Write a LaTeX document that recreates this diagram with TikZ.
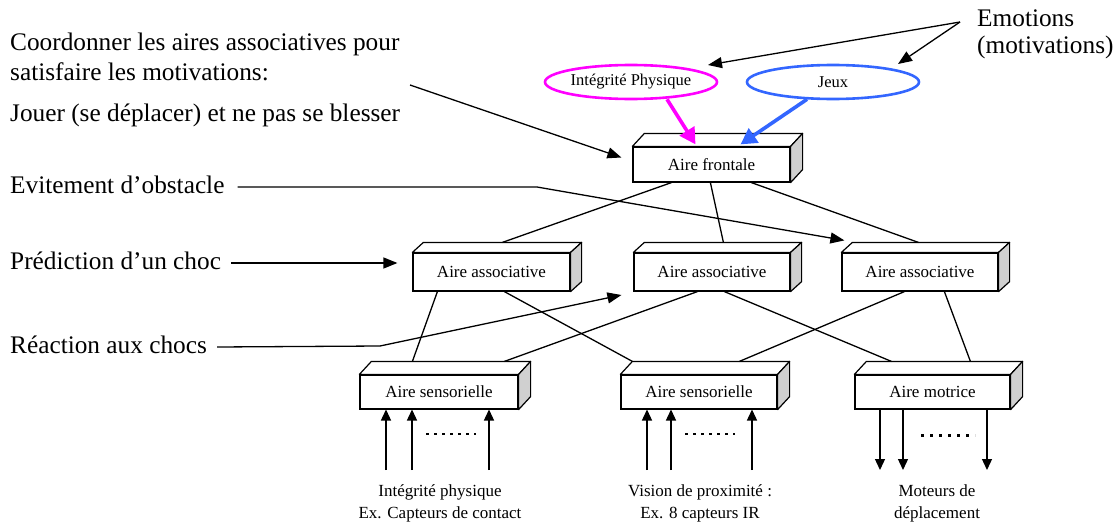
\documentclass[tikz,border=0pt]{standalone}
\usepackage{fontspec}
\setmainfont{Liberation Serif}
\usetikzlibrary{arrows.meta,shapes.geometric}

\definecolor{facegray}{RGB}{208,208,208}
\definecolor{urgepink}{RGB}{255,0,255}
\definecolor{urgeblue}{RGB}{51,102,255}

\tikzset{
  area/.style={draw, line width=1.2pt, fill=white, inner sep=0pt,
    minimum width=157pt, minimum height=36pt,
    font=\fontsize{17}{20}\selectfont},
  urge/.style={ellipse, draw, line width=2.6pt, inner sep=0pt,
    minimum width=172pt, minimum height=34pt,
    font=\fontsize{16.5}{19}\selectfont},
  caption/.style={anchor=base west, inner sep=0pt,
    font=\fontsize{25.3}{29}\selectfont},
  sensorlabel/.style={anchor=base, inner sep=0pt,
    font=\fontsize{17}{20}\selectfont},
  link/.style={line width=1.3pt},
  pointer/.style={line width=1.3pt, -{Triangle[length=14pt,width=11pt]}},
  inarrow/.style={line width=1.3pt, -{Triangle[length=11pt,width=10pt]}},
  drive/.style={line width=3.6pt, -{Triangle[length=16pt,width=17pt]}},
  etc/.style={line width=2.2pt, dash pattern=on 2.5pt off 5.5pt},
}

% top and side faces of a box-shaped area node: name, depth x, depth y
\newcommand\areafaces[3]{%
  \draw[line width=1.2pt, line join=round, fill=white]
    (#1.north west) -- ++(#2pt,#3pt) -- ([shift={(#2pt,#3pt)}]#1.north east)
    -- (#1.north east) -- cycle;
  \draw[line width=1.2pt, line join=round, fill=facegray]
    (#1.north east) -- ++(#2pt,#3pt) -- ([shift={(#2pt,#3pt)}]#1.south east)
    -- (#1.south east) -- cycle;
}

\begin{document}
\begin{tikzpicture}[x=1pt, y=-1pt]
  \useasboundingbox (0,0) rectangle (1120,522);

  % ---- areas ----
  \node[area, minimum height=35pt] (F)  at (711.5,164.5) {Aire frontale};
  \areafaces{F}{12}{13}
  \node[area, minimum height=38pt] (A1) at (491.5,272) {Aire associative};
  \areafaces{A1}{11}{10}
  \node[area, minimum height=38pt, minimum width=156pt] (A2) at (712,272) {Aire associative};
  \areafaces{A2}{11}{10}
  \node[area, minimum height=38pt, minimum width=156pt] (A3) at (920,272) {Aire associative};
  \areafaces{A3}{11}{10}
  \node[area, minimum height=34pt, minimum width=158pt] (S1) at (439,392) {Aire sensorielle};
  \areafaces{S1}{12}{13}
  \node[area, minimum height=34pt, minimum width=156pt] (S2) at (699,392) {Aire sensorielle};
  \areafaces{S2}{12}{13}
  \node[area, minimum height=34pt, minimum width=155pt] (M)  at (932.5,392) {Aire motrice};
  \areafaces{M}{12}{13}

  % ---- links between areas ----
  \draw[link] ([xshift=39pt]F.south west)  -- ([shift={(90pt,10pt)}]A1.north west);
  \draw[link] ([xshift=78pt]F.south west)  -- ([shift={(90pt,10pt)}]A2.north west);
  \draw[link] ([xshift=119pt]F.south west) -- ([shift={(77pt,10pt)}]A3.north west);
  \draw[link] ([xshift=25pt]A1.south west) -- ([shift={(53pt,13pt)}]S1.north west);
  \draw[link] ([xshift=92pt]A1.south west) -- ([shift={(12pt,13pt)}]S2.north west);
  \draw[link] ([xshift=64pt]A2.south west) -- ([shift={(145pt,13pt)}]S1.north west);
  \draw[link] ([xshift=91pt]A2.south west) -- ([shift={(37pt,13pt)}]M.north west);
  \draw[link] ([xshift=63pt]A3.south west) -- ([shift={(119pt,13pt)}]S2.north west);
  \draw[link] ([xshift=103pt]A3.south west) -- ([shift={(116pt,13pt)}]M.north west);

  % ---- motivations ----
  \node[urge, draw=urgepink] (E1) at (631,82) {Intégrité Physique};
  \node[urge, draw=urgeblue] (E2) at (833,82) {Jeux};
  \draw[drive, draw=urgepink, fill=urgepink] (E1.south) ++(36pt,1pt) coordinate (e1s)
    (e1s) -- ([shift={(-16pt,2pt)}]F.north);
  \draw[drive, draw=urgeblue, fill=urgeblue] (E2.south) ++(-26pt,1pt) coordinate (e2s)
    (e2s) -- ([shift={(29pt,2pt)}]F.north);

  \node[caption] (emo1) at (977,27) {Emotions};
  \node[caption] (emo2) at (977,53) {(motivations)};
  \coordinate (emofork) at (960,22);
  \draw[pointer] (emofork) -- (708,65) coordinate (emotip1);
  \draw[pointer] (emofork) -- (898,64) coordinate (emotip2);

  % ---- left captions ----
  \node[caption] (coord1) at (10,50) {Coordonner les aires associatives pour};
  \node[caption] (coord2) at (10,80) {satisfaire les motivations:};
  \node[caption] (coord3) at (10,121) {Jouer (se déplacer) et ne pas se blesser};
  \node[caption] (evit)   at (10,193) {Evitement d’obstacle};
  \node[caption] (pred)   at (10,269) {Prédiction d’un choc};
  \node[caption] (react)  at (10,353) {Réaction aux chocs};

  \coordinate (coordstart) at (410,85);
  \draw[pointer] (coordstart) -- ([shift={(-11pt,7pt)}]F.west);
  \coordinate (evitbend) at (537,187);
  \draw[pointer] (evit.east |- 0,187) ++(13pt,0) coordinate (evitstart)
    (evitstart) -- (evitbend) -- ([shift={(3pt,12pt)}]A3.north west);
  \draw[pointer] (pred.east |- 0,263) ++(10pt,0) coordinate (predstart)
    (predstart) -- ([shift={(-15pt,9pt)}]A1.west);
  \coordinate (reactbend) at (380,346);
  \draw[pointer] (react.east |- 0,347) ++(10pt,0) coordinate (reactstart)
    (reactstart) -- (reactbend) -- ([shift={(-12pt,-23pt)}]A2.west);

  % ---- sensor inputs ----
  \foreach \x [count=\i] in {386,412,489}
    \draw[inarrow] (\x,470) coordinate (s1in\i) -- (\x,409.5);
  \draw[etc] (426,434) -- (476,434);
  \foreach \x [count=\i] in {647,671,752}
    \draw[inarrow] (\x,470) coordinate (s2in\i) -- (\x,409.5);
  \draw[etc] (685,434) -- (735,434);

  % ---- motor outputs ----
  \foreach \x [count=\i] in {880,903,987}
    \draw[inarrow] (\x,409.5) -- (\x,470) coordinate (mout\i);
  \draw[line width=3pt, dash pattern=on 3pt off 6pt] (921,435) -- (975,435);

  \node[sensorlabel] (l1a) at (440,496) {Intégrité physique};
  \node[sensorlabel] (l1b) at (440,518) {Ex. Capteurs de contact};
  \node[sensorlabel] (l2a) at (700,496) {Vision de proximité :};
  \node[sensorlabel] (l2b) at (700,518) {Ex. 8 capteurs IR};
  \node[sensorlabel] (l3a) at (937,496) {Moteurs de};
  \node[sensorlabel] (l3b) at (937,518) {déplacement};
\end{tikzpicture}
\end{document}
